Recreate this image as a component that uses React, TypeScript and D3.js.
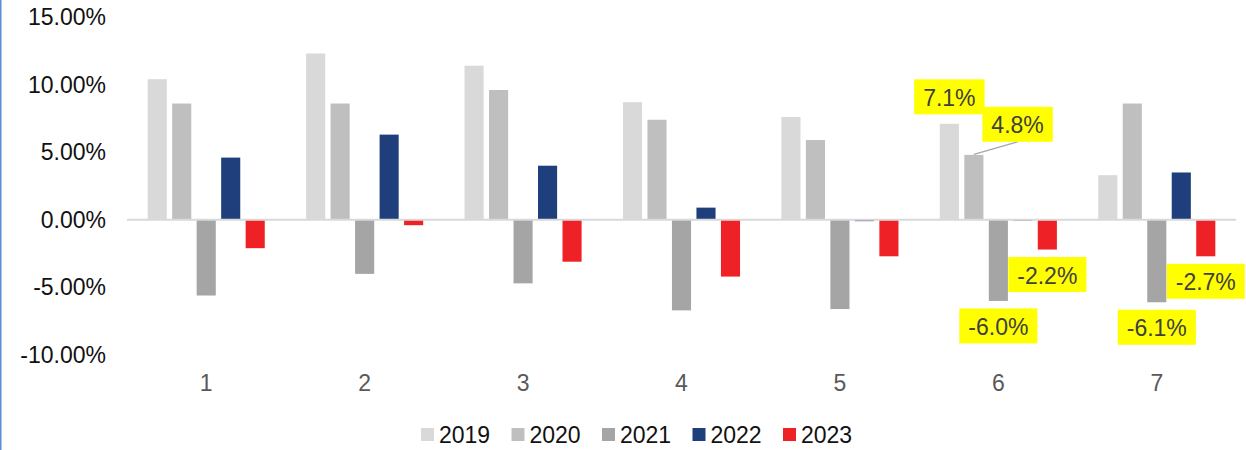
import React from 'react'
import * as d3 from 'd3'

const categories = ['1', '2', '3', '4', '5', '6', '7']
const years = ['2019', '2020', '2021', '2022', '2023']
const yearColors = ['#d9d9d9', '#bfbfbf', '#a5a5a5', '#1f3f7c', '#ee2226']

// values per year, in percent, one per category
const v2019 = [10.4, 12.3, 11.4, 8.7, 7.6, 7.1, 3.3]
const v2020 = [8.6, 8.6, 9.6, 7.4, 5.9, 4.8, 8.6]
const v2021 = [-5.6, -4.0, -4.7, -6.7, -6.6, -6.0, -6.1]
const v2022 = [4.6, 6.3, 4.0, 0.9, -0.1, 0.0, 3.5]
const v2023 = [-2.1, -0.4, -3.1, -4.2, -2.7, -2.2, -2.7]
const seriesValues = [v2019, v2020, v2021, v2022, v2023]

const yTicks = [-10, -5, 0, 5, 10, 15]

// highlighted data labels: [year index, category index]
const labelled = [
  [0, 5],
  [1, 5],
  [2, 5],
  [4, 5],
  [2, 6],
  [4, 6],
]

const W = 1246
const H = 450
const FONT = '"Liberation Sans", Arial, sans-serif'

// plain hyphen minus like the original
const fix = (s) => s.replace('\u2212', '-')

const App = () => {
  const x0 = d3
    .scaleBand()
    .domain(categories)
    .range([127, 1236])
    .paddingInner(0.227)
    .paddingOuter(0.1135)
  const x1 = d3
    .scaleBand()
    .domain(years)
    .range([0, x0.bandwidth()])
    .paddingInner(0.22)
    .paddingOuter(0.11)
  const y = d3.scaleLinear().domain([-10, 15]).range([355, 17])

  const pct = d3.format('.2%')
  const charW = (s) =>
    s.split('').reduce((a, c) => a + (c === '.' ? 0.278 : c === '%' ? 0.889 : c === '-' ? 0.333 : 0.556), 0)

  const labelSize = 23

  return (
    <svg
      width={W}
      height={H}
      style={{ position: 'absolute', left: 0, top: 0, background: '#fff' }}
      fontFamily={FONT}
    >
      <rect x={0} y={0} width={1.5} height={H} fill="#5b8bd9" />

      {/* y tick labels */}
      {yTicks.map((t) => (
        <text
          key={t}
          x={106}
          y={y(t)}
          textAnchor="end"
          dominantBaseline="central"
          fontSize={23}
          fill="#111"
        >
          {fix(pct(t / 100))}
        </text>
      ))}

      {/* bars */}
      {categories.map((c, ci) => (
        <g key={c} transform={`translate(${x0(c)},0)`}>
          {years.map((yr, si) => {
            const v = seriesValues[si][ci]
            const top = y(Math.max(0, v))
            const h = Math.abs(y(v) - y(0))
            return (
              <rect
                key={yr}
                x={x1(yr)}
                y={top}
                width={x1.bandwidth()}
                height={Math.max(h, 0.8)}
                fill={yearColors[si]}
              />
            )
          })}
        </g>
      ))}

      {/* zero line */}
      <line x1={127} x2={1236} y1={y(0)} y2={y(0)} stroke="#d9d9d9" strokeWidth={2} />

      {/* category labels */}
      {categories.map((c) => (
        <text
          key={c}
          x={x0(c) + x0.bandwidth() / 2}
          y={383}
          textAnchor="middle"
          dominantBaseline="central"
          fontSize={23}
          fill="#595959"
        >
          {c}
        </text>
      ))}

      {/* data labels */}
      {labelled.map(([si, ci]) => {
        const v = seriesValues[si][ci]
        const cx = x0(categories[ci]) + x1(years[si]) + x1.bandwidth() / 2
        const end = y(v)
        const txt = fix(d3.format('.1f')(v)) + '%'
        const bw = charW(txt) * labelSize + 18
        const bh = 35
        const shifted = si === 1
        const bx = shifted ? cx + 43.7 : cx
        const by = shifted ? end - 30.6 : v >= 0 ? end - 27 : end + 25
        return (
          <g key={`${si}-${ci}`}>
            {shifted && (
              <line
                x1={cx}
                y1={end - 0.5}
                x2={bx}
                y2={by + bh / 2}
                stroke="#a6a6a6"
                strokeWidth={1.3}
              />
            )}
            <rect x={bx - bw / 2} y={by - bh / 2} width={bw} height={bh} fill="#ffff00" />
            <text
              x={bx}
              y={by + 1}
              textAnchor="middle"
              dominantBaseline="central"
              fontSize={labelSize}
              fill="#404040"
            >
              {txt}
            </text>
          </g>
        )
      })}

      {/* legend */}
      {years.map((yr, i) => (
        <g key={yr} transform={`translate(${421 + i * 90.5},0)`}>
          <rect x={0} y={428} width={13} height={13} fill={yearColors[i]} />
          <text x={18} y={435} dominantBaseline="central" fontSize={23} fill="#111">
            {yr}
          </text>
        </g>
      ))}
    </svg>
  )
}

export default App
